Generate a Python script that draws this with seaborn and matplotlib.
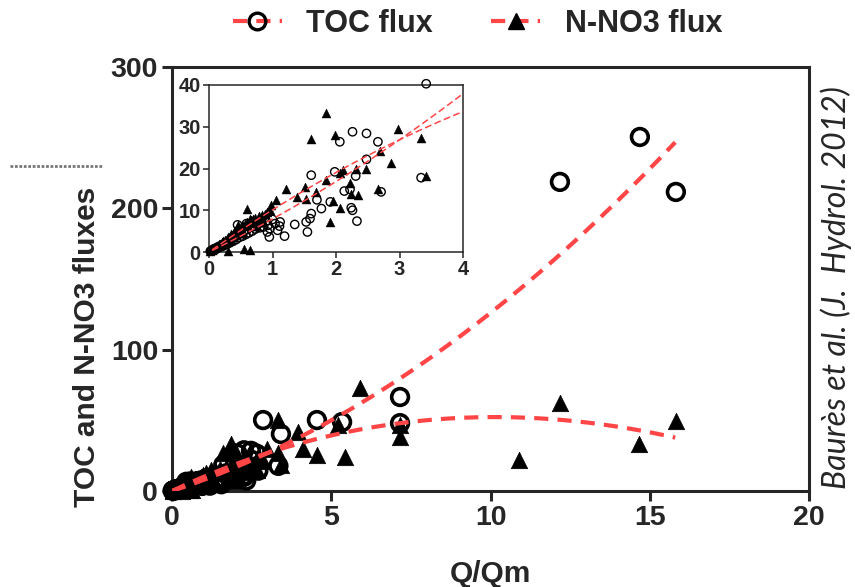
import numpy as np
import matplotlib
matplotlib.use("Agg")
import matplotlib.pyplot as plt
from matplotlib.lines import Line2D
import seaborn as sns

# TOC flux points (Q/Qm, flux)
toc_q = [0.02, 0.04, 0.05, 0.07, 0.08, 0.10, 0.12, 0.14, 0.15, 0.18, 0.20, 0.22, 0.25, 0.28,
         0.30, 0.33, 0.35, 0.38, 0.40, 0.43, 0.45, 0.48, 0.50, 0.53, 0.55, 0.58, 0.60, 0.63,
         0.65, 0.68, 0.70, 0.73, 0.76, 0.80, 0.83, 0.86, 0.90, 0.93, 0.96, 1.00, 1.04, 1.08,
         1.12, 1.19, 1.11, 1.35, 0.59, 0.45, 0.92, 0.95,
         1.53, 1.55, 1.59, 1.61, 1.77, 1.91, 2.13, 2.22, 2.24, 2.26, 2.33, 2.71, 1.61, 1.98,
         2.31, 2.48, 2.06, 2.66, 2.26, 2.48, 3.42, 3.34, 1.70,
         2.86, 4.55, 5.34, 7.16, 7.16, 12.18, 14.69, 15.82]
toc_flux = [0.2, 0.3, 0.5, 0.4, 0.8, 0.6, 1.0, 0.9, 1.3, 1.2, 1.6, 1.4, 2.0, 1.8,
            2.4, 2.2, 3.0, 2.6, 3.4, 3.0, 4.0, 3.5, 4.4, 3.8, 5.0, 4.2, 5.4, 4.6,
            6.0, 5.0, 6.2, 5.5, 6.6, 5.8, 7.0, 6.0, 7.4, 6.4, 5.6, 7.8, 6.8, 5.2,
            7.2, 3.8, 6.2, 6.6, 6.8, 6.5, 4.8, 3.6,
            7.2, 4.8, 8.0, 9.2, 10.4, 12.0, 14.6, 15.0, 10.6, 10.0, 7.4, 14.4, 18.4, 19.2,
            18.2, 22.2, 26.4, 26.4, 28.8, 28.4, 40.3, 17.8, 12.5,
            50.2, 50.2, 48.8, 66.5, 48.0, 218.7, 250.5, 211.6]

# N-NO3 flux points (Q/Qm, flux)
no3_q = [0.02, 0.04, 0.06, 0.08, 0.10, 0.12, 0.14, 0.16, 0.18, 0.20, 0.22, 0.25, 0.28, 0.30,
         0.33, 0.35, 0.38, 0.40, 0.43, 0.46, 0.48, 0.50, 0.53, 0.56, 0.58, 0.60, 0.63, 0.66,
         0.70, 0.72, 0.75, 0.78, 0.80, 0.84, 0.88, 0.92, 0.96, 0.60, 0.64, 0.46, 0.64, 0.55,
         0.30, 0.98, 1.06, 0.35, 0.52, 0.75, 0.85,
         1.22, 1.38, 1.51, 1.53, 1.69, 1.85, 1.90, 1.95, 2.06, 2.07, 2.11, 2.22, 2.24, 2.32,
         2.35, 2.48, 2.66, 2.70, 2.87, 1.61, 1.99, 1.85, 2.98, 3.34, 3.42,
         3.34, 3.96, 4.10, 4.55, 5.43, 5.20, 5.90, 7.16, 7.16, 10.90, 12.18, 14.66, 15.82]
no3_flux = [0.3, 0.5, 0.6, 1.0, 1.1, 1.4, 1.5, 1.9, 2.0, 2.3, 2.6, 2.8, 3.2, 3.5,
            3.9, 4.2, 4.4, 4.8, 5.0, 5.6, 5.2, 6.0, 6.2, 6.8, 6.4, 7.2, 7.0, 7.6,
            7.8, 8.2, 7.4, 8.6, 8.0, 8.8, 9.2, 9.6, 10.0, 10.2, 8.0, 6.4, 0.4, 0.6,
            0.2, 11.2, 12.4, 2.8, 4.6, 6.2, 7.2,
            15.0, 13.2, 15.6, 12.8, 14.4, 17.2, 7.2, 12.2, 10.6, 19.0, 19.6, 16.6, 13.8, 19.8,
            13.6, 20.0, 15.2, 24.2, 21.4, 27.0, 28.0, 33.4, 29.4, 27.2, 18.2,
            50.2, 42.0, 30.0, 25.5, 24.0, 47.0, 73.0, 38.0, 47.0, 21.9, 62.3, 33.3, 49.5]

# fitted curves: flux = c1*Q + c2*Q^2 + c3*Q^3 (highest first for polyval)
toc_fit = [0.0, 0.52, 7.4, 0.0]
no3_fit = [0.0034, -0.577, 10.66, 0.0]
fit_qmax = 15.8

red = "#FF4545"

sns.set_style("ticks")
plt.rcParams["font.family"] = ["Liberation Sans", "DejaVu Sans"]
plt.rcParams["font.weight"] = "bold"

fig = plt.figure(figsize=(8.55, 5.87), dpi=100)
ax = fig.add_axes([172 / 855, 1 - 491 / 587, 637 / 855, 424 / 587])
ins = fig.add_axes([209 / 855, 1 - 252 / 587, 254 / 855, 167 / 587])

qq = np.linspace(0, fit_qmax, 200)

# main panel
sns.scatterplot(x=toc_q, y=toc_flux, ax=ax, marker="o", s=145, facecolors="none",
                edgecolor="black", linewidth=2.6, clip_on=False, zorder=3)
sns.scatterplot(x=no3_q, y=no3_flux, ax=ax, marker="^", s=140, color="black",
                edgecolor="black", linewidth=0.5, clip_on=False, zorder=3)
for coef in (toc_fit, no3_fit):
    sns.lineplot(x=qq, y=np.polyval(coef, qq), ax=ax, color=red, lw=3,
                 linestyle=(0, (3.4, 2.2)), sort=False, estimator=None, zorder=4)

ax.set_xlim(0, 20)
ax.set_ylim(0, 300)
ax.set_xticks([0, 5, 10, 15, 20])
ax.set_yticks([0, 100, 200, 300])
for s in ax.spines.values():
    s.set_linewidth(2.2)
ax.tick_params(width=2.2, length=7, labelsize=20.5, pad=3)
ax.set_xlabel("Q/Qm", fontsize=21.5, fontweight="bold")
ax.set_ylabel("TOC and N-NO3 fluxes", fontsize=21.5, fontweight="bold", va="center")
ax.xaxis.set_label_coords(0.5, -0.162)
ax.yaxis.set_label_coords(-0.133, 0.34)

# inset panel
tq, tf = np.array(toc_q), np.array(toc_flux)
nq, nf = np.array(no3_q), np.array(no3_flux)
mt = (tq <= 4) & (tf <= 40.5)
mn = (nq <= 4) & (nf <= 40.5)
sns.scatterplot(x=tq[mt], y=tf[mt], ax=ins, marker="o", s=36, facecolors="none",
                edgecolor="black", linewidth=1.0, clip_on=False, zorder=3)
sns.scatterplot(x=nq[mn], y=nf[mn], ax=ins, marker="^", s=42, color="black",
                edgecolor="black", linewidth=0.3, clip_on=False, zorder=3)
qi = np.linspace(0.05, 4.2, 100)
for coef in (toc_fit, no3_fit):
    sns.lineplot(x=qi, y=np.polyval(coef, qi), ax=ins, color=red, lw=1.1,
                 linestyle=(0, (4.5, 2.2)), sort=False, estimator=None, zorder=4)
ins.set_xlim(0, 4)
ins.set_ylim(0, 40)
ins.set_xticks([0, 1, 2, 3, 4])
ins.set_yticks([0, 10, 20, 30, 40])
for s in ins.spines.values():
    s.set_linewidth(1.1)
ins.tick_params(width=1.1, length=4, labelsize=14.5, pad=2)
ins.set_xlabel("")
ins.set_ylabel("")

# legend
handles = [
    Line2D([], [], color=red, lw=3, linestyle=(0, (3.4, 2.2)), marker="o", markersize=12,
           markerfacecolor="none", markeredgecolor="black", markeredgewidth=2.4),
    Line2D([], [], color=red, lw=3, linestyle=(0, (3.4, 2.2)), marker="^", markersize=12,
           markerfacecolor="black", markeredgecolor="black"),
]
fig.legend(handles, ["TOC flux", "N-NO3 flux"], loc="center", bbox_to_anchor=(0.5585, 0.959),
           ncol=2, frameon=False, prop={"size": 22, "weight": "bold"},
           handlelength=1.6, handletextpad=0.8, columnspacing=1.9)

fig.text(836 / 855, 1 - 288 / 587, "Baurès et al. (J.  Hydrol. 2012)", rotation=90,
         ha="center", va="center", fontsize=23, style="italic", fontweight="normal",
         family=["Lato", "DejaVu Sans"])

fig.add_artist(Line2D([10 / 855, 103 / 855], [1 - 166 / 587] * 2, color="#777777",
                      lw=2, linestyle=(0, (1, 0.6))))

fig.savefig("out.png", dpi=100)
